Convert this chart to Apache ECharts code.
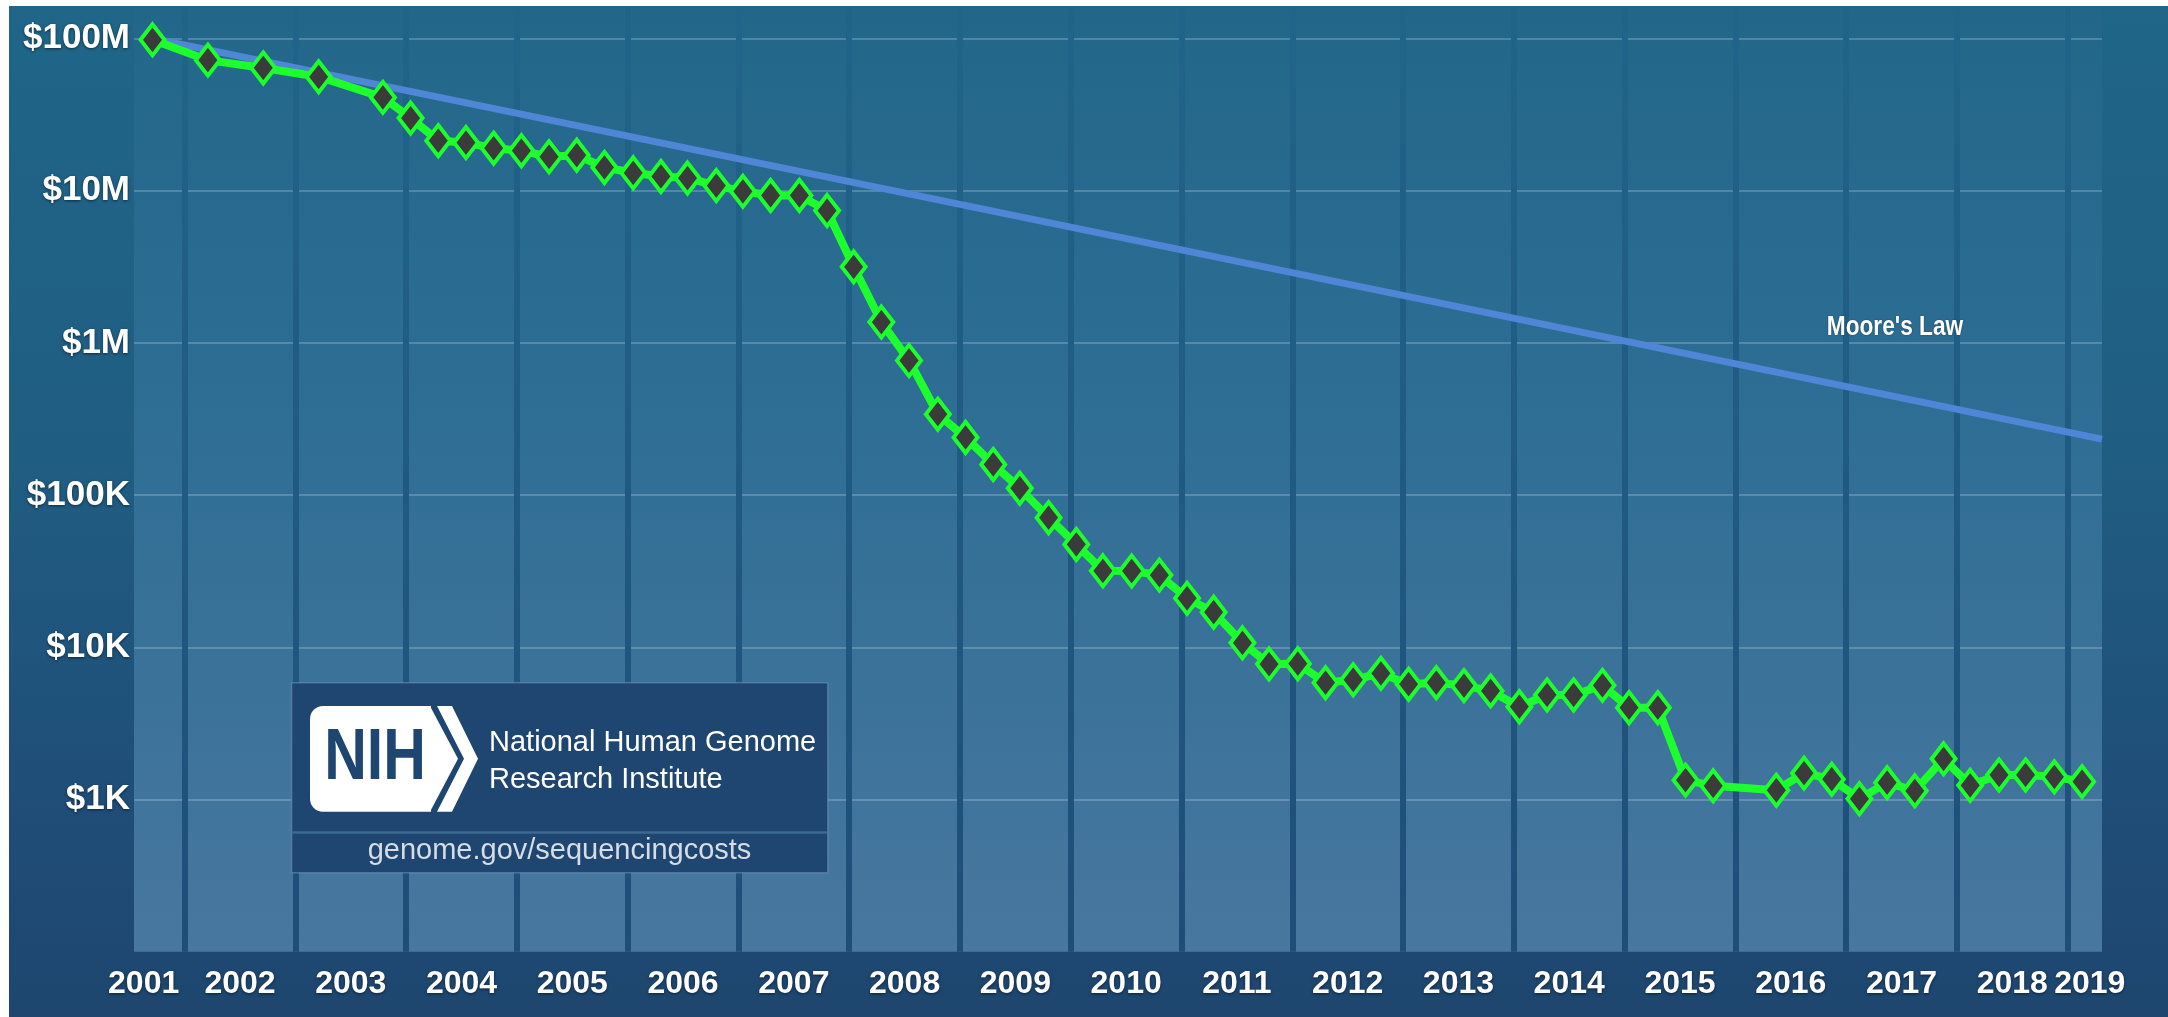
<!DOCTYPE html>
<html>
<head>
<meta charset="utf-8">
<script src="https://cdn.jsdelivr.net/npm/echarts@6/dist/echarts.min.js"></script>
<style>
  html, body { margin: 0; padding: 0; background: #ffffff; width: 2168px; height: 1017px; overflow: hidden; }
  #chart {
    position: absolute; left: 9px; top: 6px; width: 2159px; height: 1011px;
    background: linear-gradient(to bottom, #1f6688 0%, #205d83 45%, #1f4d77 80%, #1e466f 100%);
  }
</style>
</head>
<body>
<div id="chart"></div>
<script>
// ---- Data ----
// Cost per genome (USD); x is the date as a decimal year
const costDates = [
  2001.71, 2002.21, 2002.71, 2003.21, 2003.79, 2004.04, 2004.29, 2004.54, 2004.79, 2005.04,
  2005.29, 2005.54, 2005.79, 2006.05, 2006.30, 2006.54, 2006.80, 2007.04, 2007.29, 2007.55,
  2007.80, 2008.04, 2008.29, 2008.54, 2008.80, 2009.05, 2009.30, 2009.54, 2009.80, 2010.05,
  2010.29, 2010.55, 2010.80, 2011.05, 2011.29, 2011.55, 2011.79, 2012.05, 2012.30, 2012.55,
  2012.80, 2013.05, 2013.30, 2013.55, 2013.79, 2014.05, 2014.30, 2014.54, 2014.80, 2015.04,
  2015.30, 2015.55, 2015.80, 2016.37, 2016.62, 2016.87, 2017.12, 2017.37, 2017.62, 2017.88,
  2018.12, 2018.38, 2018.62, 2018.88, 2019.13
];
const costValues = [
  98000000, 72000000, 64000000, 56000000, 41000000, 30000000, 21300000, 20700000, 19000000, 18300000,
  16700000, 17100000, 14200000, 13100000, 12400000, 12100000, 10800000, 9900000, 9300000, 9300000,
  7400000, 3160000, 1370000, 766000, 340000, 239000, 159000, 111000, 71000, 47400,
  31800, 31700, 29800, 21000, 17000, 10700, 7760, 7800, 5850, 6120,
  6740, 5720, 5850, 5600, 5170, 4070, 4860, 4860, 5620, 4010,
  4010, 1340, 1230, 1150, 1490, 1360, 1010, 1290, 1140, 1850,
  1240, 1450, 1450, 1410, 1310
];
// Moore's Law reference line (end points)
const mooreDates = [2001.71, 2019.31];
const mooreValues = [100000000, 233000];

// Axis ticks / labels
const yearBoundaries = [2002, 2003, 2004, 2005, 2006, 2007, 2008, 2009, 2010, 2011,
                        2012, 2013, 2014, 2015, 2016, 2017, 2018, 2019];
const yearLabels = ['2001', '2002', '2003', '2004', '2005', '2006', '2007', '2008', '2009', '2010',
                    '2011', '2012', '2013', '2014', '2015', '2016', '2017', '2018', '2019'];
const yearLabelAt = [2001.63, 2002.5, 2003.5, 2004.5, 2005.5, 2006.5, 2007.5, 2008.5, 2009.5, 2010.5,
                     2011.5, 2012.5, 2013.5, 2014.5, 2015.5, 2016.5, 2017.5, 2018.5, 2019.2];
const yTickValues = [1e3, 1e4, 1e5, 1e6, 1e7, 1e8];
const yTickLabels = ['$1K', '$10K', '$100K', '$1M', '$10M', '$100M'];

const xMin = 2001.543, xMax = 2019.31;
const yMin = 100, yMax = 158489319;

// ---- Chart ----
const SANS = "'Liberation Sans', Arial, sans-serif";
const chart = echarts.init(document.getElementById('chart'), null, { renderer: 'canvas' });

const GRID_TOP = 2, GRID_BOTTOM = 65.3;
const plotTopPx = GRID_TOP, plotBottomPx = 1011 - GRID_BOTTOM;

const labelShadow = { textShadowColor: 'rgba(0,0,0,0.55)', textShadowBlur: 3, textShadowOffsetY: 1 };

const option = {
  backgroundColor: 'transparent',
  animation: false,
  grid: {
    left: 125, right: 66, top: GRID_TOP, bottom: GRID_BOTTOM,
    show: true, borderWidth: 0,
    backgroundColor: {
      type: 'linear', x: 0, y: 0, x2: 0, y2: 1,
      colorStops: [
        { offset: 0, color: '#22678a' },
        { offset: 0.45, color: '#2f6e95' },
        { offset: 1, color: '#48779f' }
      ]
    }
  },
  xAxis: {
    type: 'value', min: xMin, max: xMax,
    axisLine: { show: false },
    axisTick: { show: false, customValues: yearBoundaries },
    axisLabel: {
      customValues: yearLabelAt,
      showMinLabel: true, showMaxLabel: true, hideOverlap: false,
      formatter: function (v) {
        const i = yearLabelAt.indexOf(v);
        return i >= 0 ? yearLabels[i] : '';
      },
      color: '#ffffff', fontSize: 32, fontWeight: 'bold', fontFamily: SANS,
      margin: 16, ...labelShadow
    },
    splitLine: {
      show: true,
      lineStyle: {
        width: 6,
        color: {
          type: 'linear', global: true, x: 0, y: plotTopPx, x2: 0, y2: plotBottomPx,
          colorStops: [
            { offset: 0, color: '#21648a' },
            { offset: 0.5, color: '#205a83' },
            { offset: 1, color: '#1f4d78' }
          ]
        }
      }
    }
  },
  yAxis: {
    type: 'log', logBase: 10, min: yMin, max: yMax,
    axisLine: { show: false },
    axisTick: { show: false },
    axisLabel: {
      formatter: function (v) {
        for (let i = 0; i < yTickValues.length; i++) {
          if (Math.abs(v - yTickValues[i]) / yTickValues[i] < 1e-6) return yTickLabels[i];
        }
        return '';
      },
      color: '#ffffff', fontSize: 35, fontWeight: 'bold', fontFamily: SANS,
      margin: 4, ...labelShadow
    },
    splitLine: {
      show: true, showMinLine: false, showMaxLine: false,
      lineStyle: { color: 'rgba(255,255,255,0.2)', width: 2 }
    }
  },
  series: [
    {
      name: "Moore's Law", type: 'line', silent: true, z: 2,
      data: mooreDates.map((d, i) => [d, mooreValues[i]]),
      symbol: 'none',
      lineStyle: { color: '#4f86d6', width: 7, cap: 'butt' }
    },
    {
      name: 'Cost per Genome', type: 'line', silent: true, z: 3,
      data: costDates.map((d, i) => [d, costValues[i]]),
      symbol: 'diamond', symbolSize: [24, 31], showAllSymbol: true,
      itemStyle: { color: '#3b3b3b', borderColor: '#1cff2c', borderWidth: 4 },
      lineStyle: { color: '#1cff2c', width: 8, join: 'round' }
    }
  ],
  graphic: [
    { type: 'text', z: 50, x: 1886, y: 322, scaleX: 0.84,
      style: { text: "Moore's Law", fill: '#ffffff', fontSize: 27, fontWeight: 'bold',
               fontFamily: SANS, textAlign: 'center', textVerticalAlign: 'middle',
               textShadowColor: 'rgba(0,0,0,0.4)', textShadowBlur: 2 } },
    { type: 'group', z: 60, children: [
      { type: 'rect', z: 60, shape: { x: 282.6, y: 676.7, width: 536.2, height: 190 },
        style: { fill: '#1e4670', stroke: 'rgba(110,150,190,0.55)', lineWidth: 1.5 } },
      { type: 'rect', z: 61, shape: { x: 283.5, y: 825.3, width: 534.5, height: 2.5 },
        style: { fill: '#3d6a92' } },
      { type: 'rect', z: 61, shape: { x: 301, y: 700, width: 121, height: 105.7, r: [13, 0, 0, 13] },
        style: { fill: '#ffffff' } },
      { type: 'polygon', z: 61, shape: { points: [[421, 700], [449, 752.8], [421, 805.7]] },
        style: { fill: '#ffffff' } },
      { type: 'polygon', z: 61, shape: { points: [[428, 700], [443, 700], [469, 752.8], [443, 805.7], [428, 805.7], [455, 752.8]] },
        style: { fill: '#ffffff' } },
      { type: 'text', z: 62, x: 366, y: 753, scaleX: 0.82,
        style: { text: 'NIH', fill: '#1e4670', fontSize: 72, fontWeight: 'bold', fontFamily: SANS,
                 textAlign: 'center', textVerticalAlign: 'middle' } },
      { type: 'text', z: 62, x: 480, y: 737,
        style: { text: 'National Human Genome', fill: '#ffffff', fontSize: 29, fontFamily: SANS,
                 textAlign: 'left', textVerticalAlign: 'middle' } },
      { type: 'text', z: 62, x: 480, y: 774,
        style: { text: 'Research Institute', fill: '#ffffff', fontSize: 29, fontFamily: SANS,
                 textAlign: 'left', textVerticalAlign: 'middle' } },
      { type: 'text', z: 62, x: 550.5, y: 845,
        style: { text: 'genome.gov/sequencingcosts', fill: '#d6dde6', fontSize: 29, fontFamily: SANS,
                 textAlign: 'center', textVerticalAlign: 'middle' } }
    ] }
  ]
};
chart.setOption(option);
</script>
</body>
</html>
